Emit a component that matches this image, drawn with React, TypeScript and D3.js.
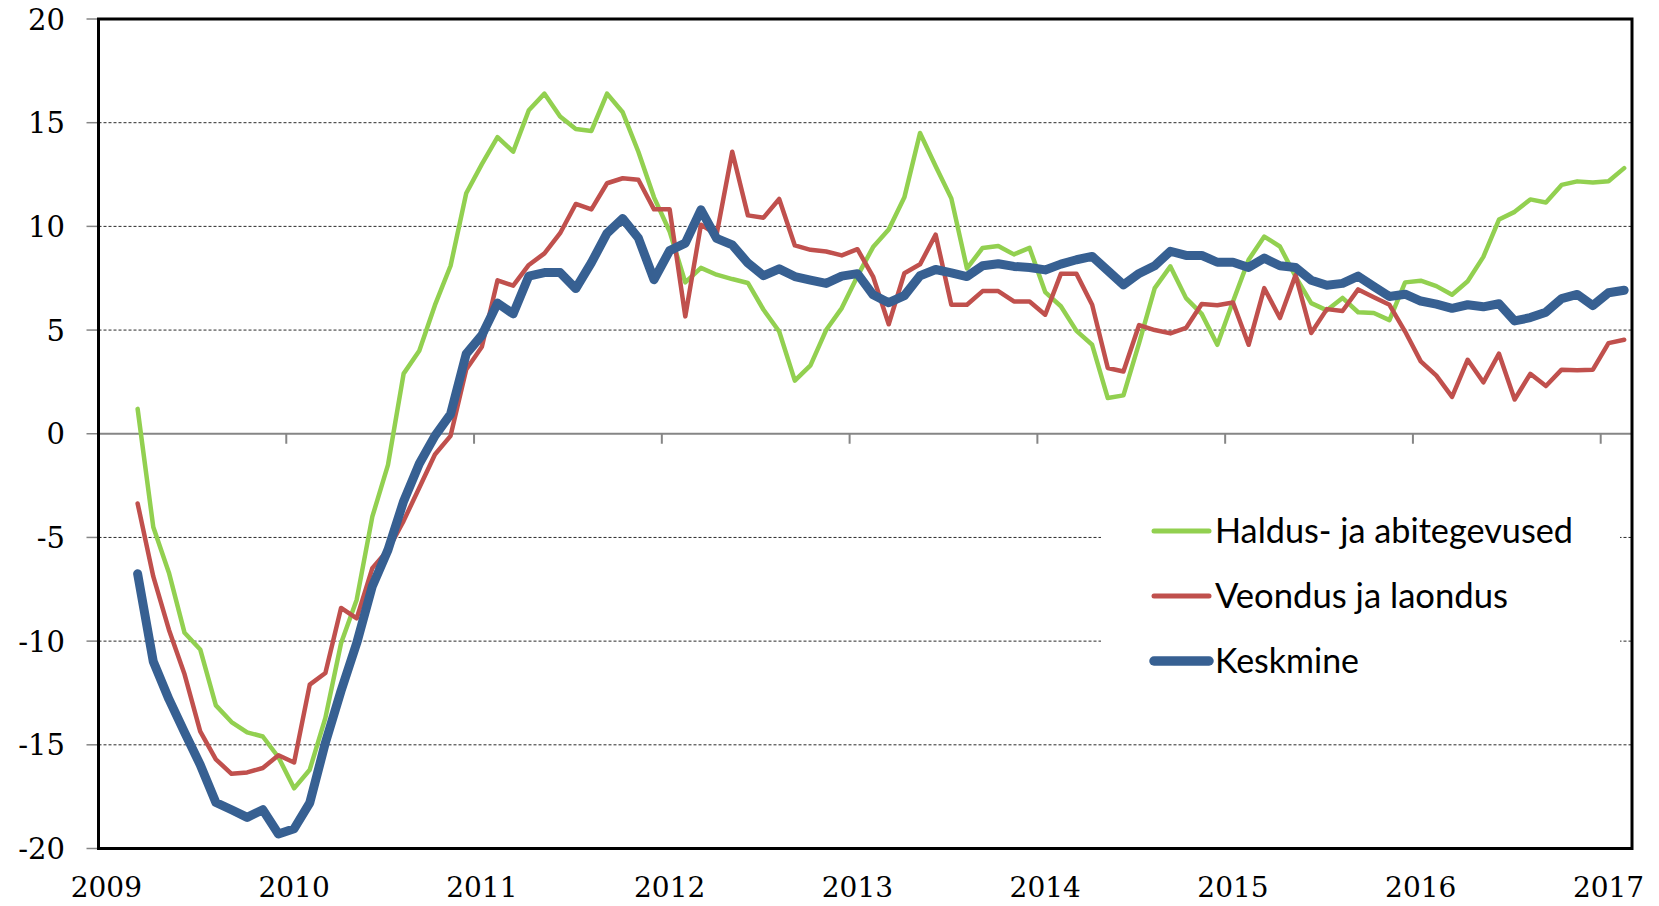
import React from "react";
import * as d3 from "d3";

// Axis categories: monthly, Jan 2009 – Feb 2017 (data starts Mar 2009)
const axisMonths: Date[] = d3.timeMonth.range(new Date(2009, 0, 1), new Date(2017, 2, 1));
const dataMonths: Date[] = axisMonths.slice(2);

const yearLabels = ["2009", "2010", "2011", "2012", "2013", "2014", "2015", "2016", "2017"];
const yTicks = [-20, -15, -10, -5, 0, 5, 10, 15, 20];

const haldus = [1.2, -4.5, -6.7, -9.6, -10.4, -13.1, -13.9, -14.4, -14.6, -15.6, -17.1, -16.2, -13.7, -10.1, -8.0, -4.0, -1.5, 2.9, 4.0, 6.2, 8.1, 11.6, 13.0, 14.3, 13.6, 15.6, 16.4, 15.3, 14.7, 14.6, 16.4, 15.5, 13.6, 11.4, 9.75, 7.3, 8.0, 7.67, 7.46, 7.27, 5.98, 4.93, 2.56, 3.3, 5.0, 6.06, 7.6, 9.0, 9.85, 11.4, 14.5, 12.9, 11.35, 7.97, 8.96, 9.05, 8.65, 8.96, 6.83, 6.15, 4.96, 4.29, 1.72, 1.85, 4.37, 7.02, 8.07, 6.54, 5.78, 4.29, 6.38, 8.39, 9.51, 9.03, 7.58, 6.3, 5.95, 6.55, 5.86, 5.82, 5.48, 7.3, 7.38, 7.12, 6.7, 7.35, 8.53, 10.33, 10.7, 11.3, 11.15, 12.0, 12.17, 12.12, 12.18, 12.81];

const veondus = [-3.36, -6.88, -9.45, -11.6, -14.35, -15.7, -16.4, -16.33, -16.12, -15.5, -15.85, -12.1, -11.54, -8.4, -8.9, -6.48, -5.6, -4.2, -2.6, -1.0, -0.1, 3.1, 4.2, 7.4, 7.14, 8.14, 8.7, 9.67, 11.08, 10.82, 12.08, 12.32, 12.25, 10.82, 10.82, 5.66, 10.08, 9.6, 13.6, 10.53, 10.42, 11.32, 9.08, 8.87, 8.79, 8.6, 8.9, 7.58, 5.28, 7.74, 8.17, 9.6, 6.22, 6.22, 6.88, 6.88, 6.38, 6.38, 5.74, 7.71, 7.71, 6.22, 3.17, 3.0, 5.24, 5.0, 4.84, 5.1, 6.26, 6.2, 6.33, 4.29, 7.02, 5.58, 7.65, 4.86, 6.01, 5.92, 6.96, 6.58, 6.22, 4.93, 3.49, 2.8, 1.78, 3.57, 2.48, 3.86, 1.65, 2.89, 2.3, 3.09, 3.06, 3.09, 4.37, 4.53];

const keskmine = [-6.75, -10.98, -12.8, -14.4, -15.96, -17.78, -18.13, -18.5, -18.13, -19.3, -19.05, -17.8, -14.9, -12.4, -10.1, -7.35, -5.6, -3.25, -1.45, -0.1, 0.95, 3.85, 4.75, 6.3, 5.78, 7.6, 7.77, 7.77, 7.0, 8.25, 9.67, 10.38, 9.44, 7.43, 8.83, 9.19, 10.8, 9.42, 9.11, 8.23, 7.62, 7.95, 7.58, 7.41, 7.25, 7.6, 7.72, 6.7, 6.32, 6.66, 7.62, 7.92, 7.76, 7.58, 8.1, 8.2, 8.07, 8.02, 7.9, 8.18, 8.39, 8.55, 7.87, 7.18, 7.73, 8.1, 8.8, 8.6, 8.6, 8.27, 8.27, 8.02, 8.47, 8.1, 8.02, 7.4, 7.16, 7.25, 7.6, 7.1, 6.62, 6.73, 6.4, 6.25, 6.05, 6.22, 6.12, 6.27, 5.44, 5.6, 5.86, 6.52, 6.72, 6.18, 6.8, 6.92];

const seriesNames = ["Haldus- ja abitegevused", "Veondus ja laondus", "Keskmine"];
const seriesColors = ["#92D050", "#C0504D", "#376092"];
const seriesWidths = [4.5, 4.5, 9];
const seriesValues = [haldus, veondus, keskmine];

export default function App() {
  const W = 1659, H = 906;
  const left = 98.5, right = 1632, top = 19, bottom = 848.5;

  const x = d3.scaleBand<number>().domain(axisMonths.map(d => +d)).range([left, right]).paddingInner(0).paddingOuter(0);
  const y = d3.scaleLinear().domain([-20, 20]).range([bottom, top]);
  const bw = x.bandwidth();
  const cx = (d: Date) => (x(+d) as number) + bw / 2;

  const line = d3.line<number>()
    .x((_, i) => cx(dataMonths[i]))
    .y(v => y(v));

  const yearStarts = axisMonths.filter(d => d.getMonth() === 0);

  const legendX0 = 1154, legendX1 = 1209, legendTextX = 1215;
  const legendY = [531, 596, 661];
  const legendTextLen = [358, 293, 144];

  return (
    <svg width={W} height={H} style={{ position: "absolute", left: 0, top: 0, background: "#fff" }}>
      <rect x={0} y={0} width={W} height={H} fill="#fff" />
      {/* gridlines */}
      {yTicks.filter(t => t !== 0 && t !== 20 && t !== -20).map(t => (
        <line key={"g" + t} x1={left} x2={right} y1={y(t)} y2={y(t)} stroke="#2a2a2a" strokeWidth={1} strokeDasharray="3,2" />
      ))}
      {/* legend background */}
      <rect x={1101} y={490} width={519} height={210} fill="#fff" />
      {/* zero line */}
      <line x1={left} x2={right} y1={y(0)} y2={y(0)} stroke="#868686" strokeWidth={2} />
      {/* x ticks on zero line */}
      {yearStarts.map((d, i) => (
        <line key={"xt" + i} x1={x(+d)} x2={x(+d)} y1={y(0)} y2={y(0) + 10} stroke="#868686" strokeWidth={2} />
      ))}
      {/* y ticks */}
      {yTicks.map(t => (
        <line key={"yt" + t} x1={left - 12} x2={left} y1={y(t)} y2={y(t)} stroke="#868686" strokeWidth={1.5} />
      ))}
      {/* series */}
      {seriesValues.map((vals, si) => (
        <path key={"s" + si} d={line(vals) || ""} fill="none" stroke={seriesColors[si]} strokeWidth={seriesWidths[si]} strokeLinejoin="round" strokeLinecap="round" />
      ))}
      {/* frame */}
      <rect x={left} y={top} width={right - left} height={bottom - top} fill="none" stroke="#000" strokeWidth={3} />
      {/* y labels */}
      {yTicks.map(t => (
        <text key={"yl" + t} x={65} y={y(t) + 10.5} textAnchor="end" fontFamily="'DejaVu Serif', serif" fontSize={29} fill="#000">{t}</text>
      ))}
      {/* x labels */}
      {yearStarts.map((d, i) => (
        <text key={"xl" + i} x={cx(d)} y={897} textAnchor="middle" fontFamily="'DejaVu Serif', serif" fontSize={28} fill="#000">{yearLabels[i]}</text>
      ))}
      {/* legend */}
      {seriesNames.map((n, i) => (
        <g key={"lg" + i}>
          <line x1={legendX0} x2={legendX1} y1={legendY[i]} y2={legendY[i]} stroke={seriesColors[i]} strokeWidth={i === 2 ? 9.5 : 5} strokeLinecap="round" />
          <text x={legendTextX} y={legendY[i] + 11.5} fontFamily="Lato, 'Open Sans', sans-serif" fontSize={34} fill="#000" textLength={legendTextLen[i]} lengthAdjust="spacingAndGlyphs">{n}</text>
        </g>
      ))}
    </svg>
  );
}
